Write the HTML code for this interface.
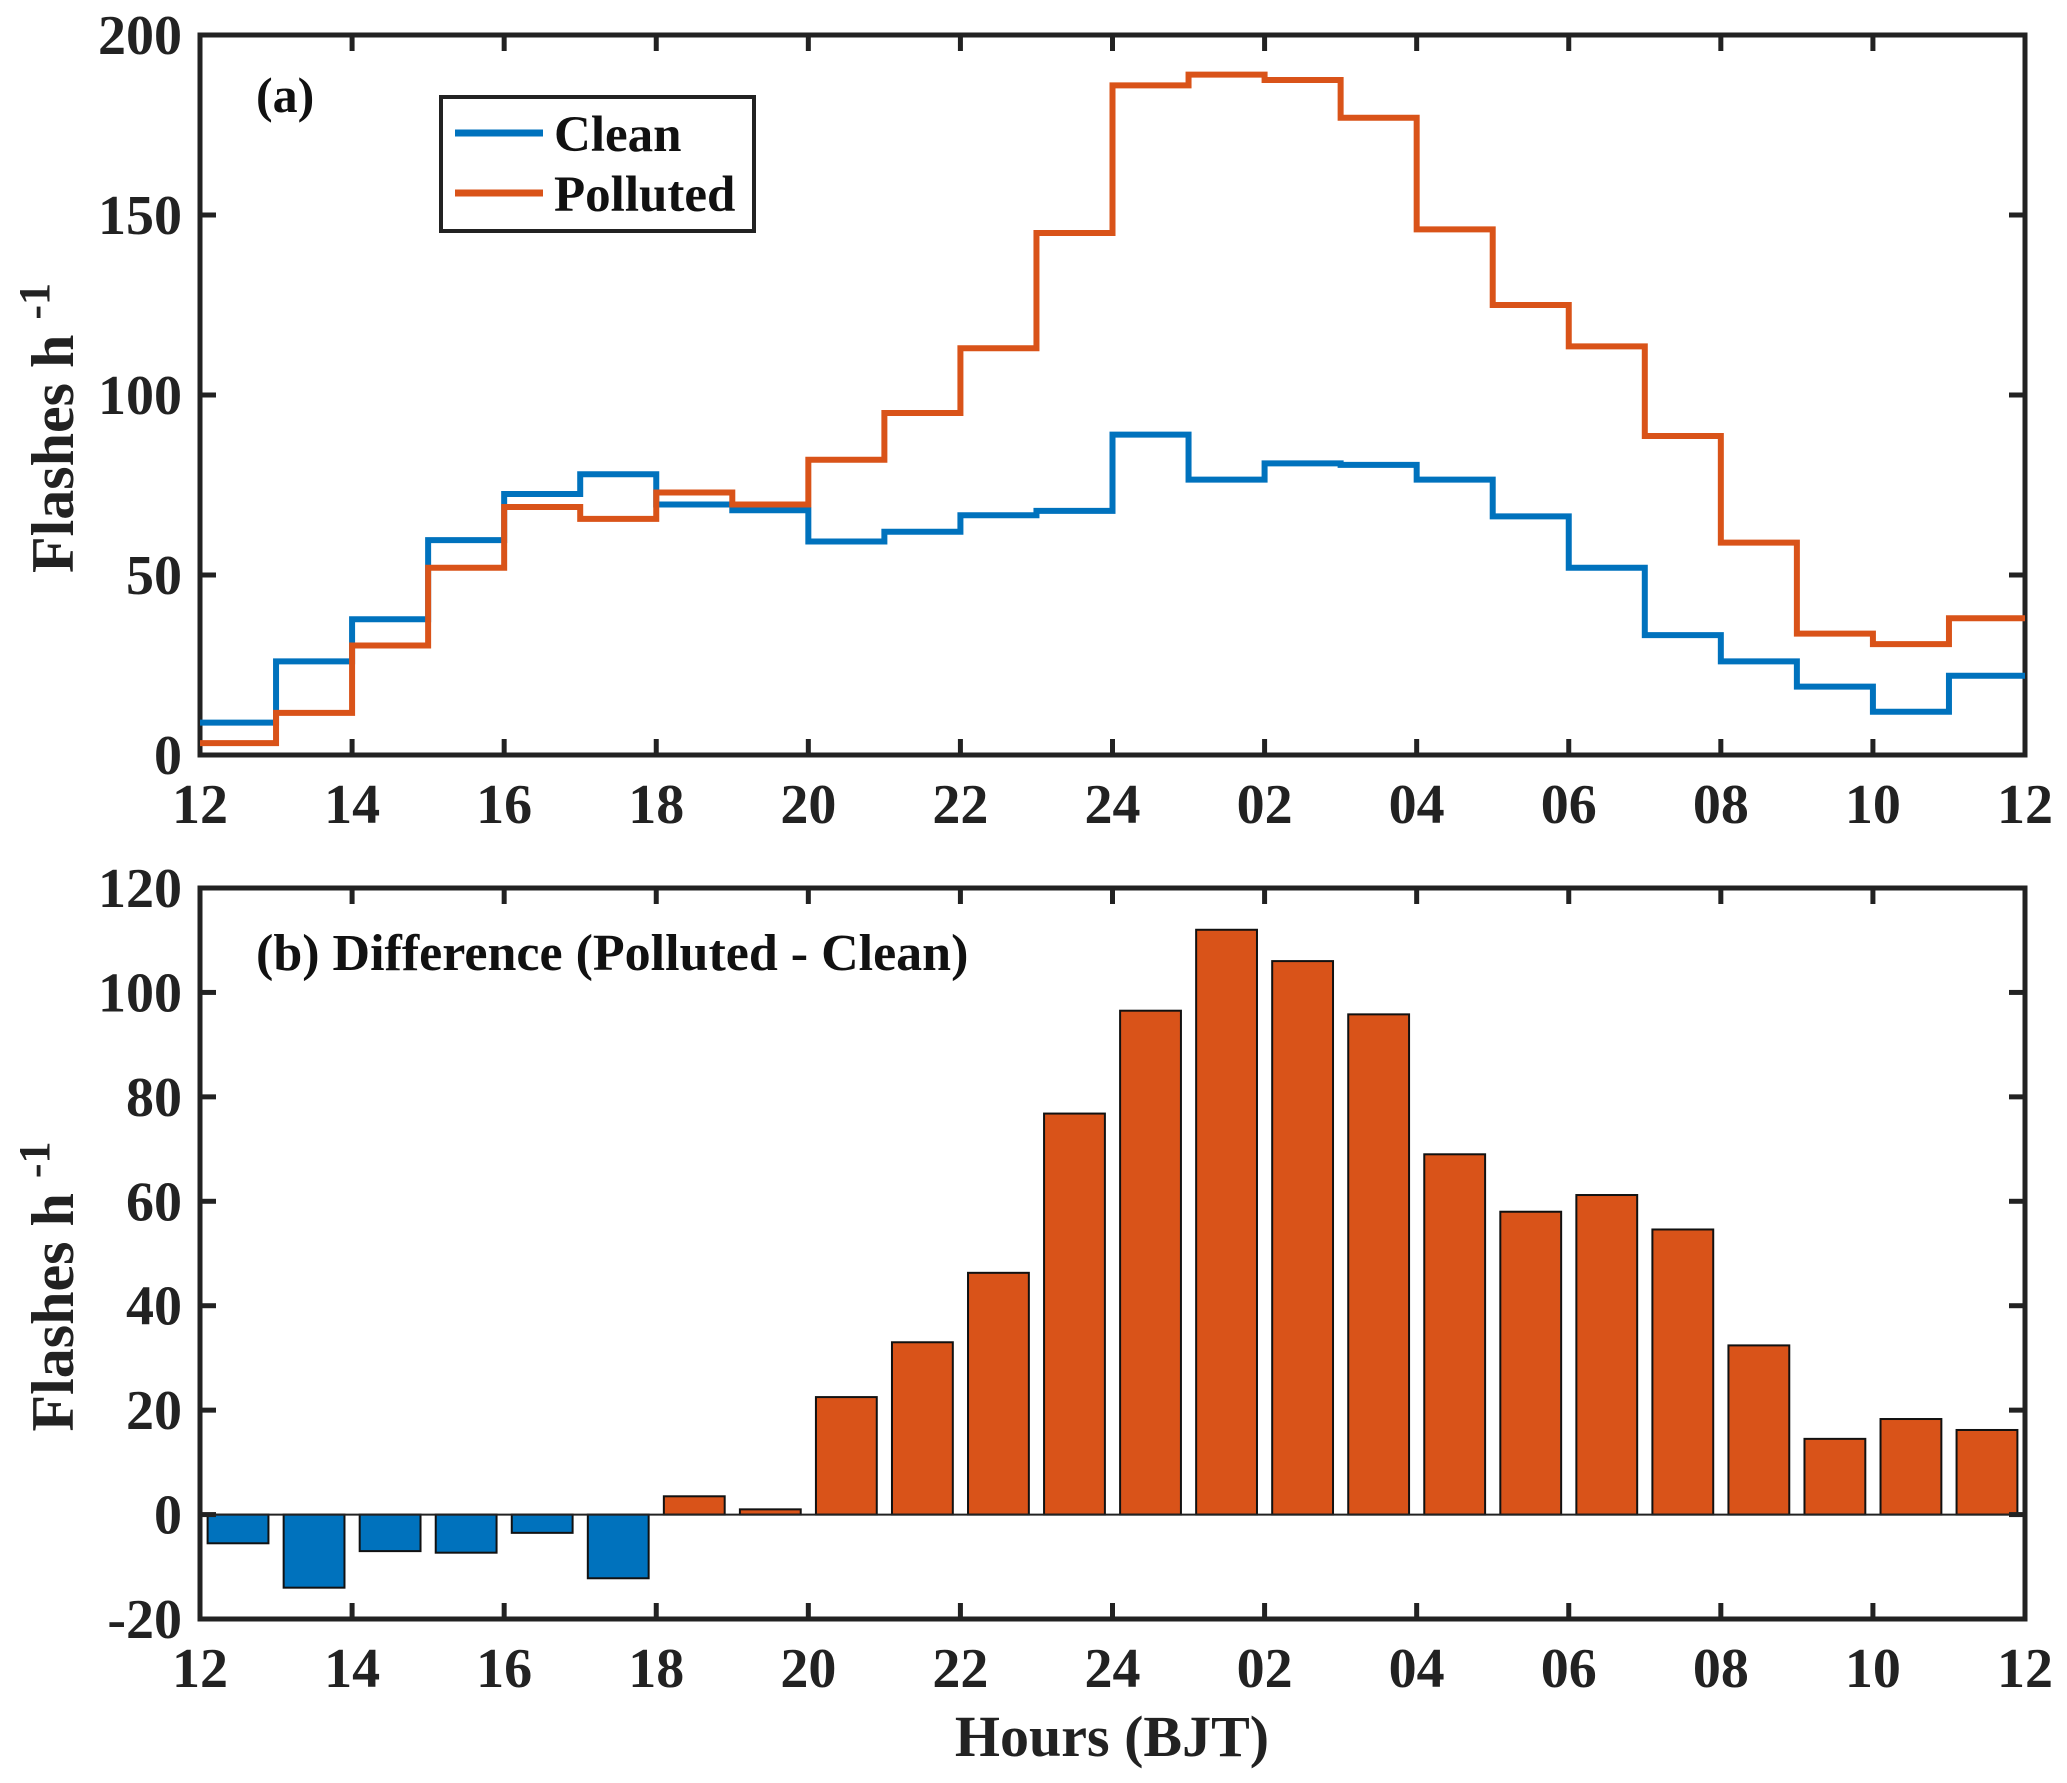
<!DOCTYPE html>
<html><head><meta charset="utf-8"><style>
body{margin:0;background:#fff}
svg{display:block;font-family:"Liberation Serif",serif;font-weight:bold}
</style></head><body>
<svg id="chart" width="2067" height="1783" viewBox="0 0 2067 1783" xmlns="http://www.w3.org/2000/svg"></svg>
<script>
const hours = [12,13,14,15,16,17,18,19,20,21,22,23,24,1,2,3,4,5,6,7,8,9,10,11];
const cleanVals = [9,26,37.7,59.7,72.5,78,69.6,68,59.3,62,66.6,67.8,89,76.5,81,80.6,76.5,66.3,52,33.3,26,19,12,22];
const pollutedVals = [3.3,11.7,30.4,52,68.9,65.6,72.9,69.6,82,95,113,145,186,189,187.5,177,146,125,113.5,88.6,59,33.7,30.8,38];
const diffVals = [-5.5,-14,-7,-7.3,-3.5,-12.2,3.5,1,22.5,33,46.3,76.8,96.5,112,106,95.8,69,58,61.2,54.6,32.4,14.5,18.3,16.2];
const xTickLabels = ["12","14","16","18","20","22","24","02","04","06","08","10","12"];
const yTicksA = [0,50,100,150,200];
const yTicksB = [-20,0,20,40,60,80,100,120];

const NS="http://www.w3.org/2000/svg";
const svg=document.getElementById('chart');
function mk(tag,attrs,parent){const e=document.createElementNS(NS,tag);for(const k in attrs)e.setAttribute(k,attrs[k]);(parent||svg).appendChild(e);return e;}
const X0=200,X1=2025;
const xs=i=>X0+(X1-X0)*i/24;
const A={top:35,bot:755,min:0,max:200};
const B={top:888,bot:1619,min:-20,max:120};
const ya=v=>A.bot-(v-A.min)/(A.max-A.min)*(A.bot-A.top);
const yb=v=>B.bot-(v-B.min)/(B.max-B.min)*(B.bot-B.top);
const BLUE="#0072BD",ORANGE="#D95319";

function axes(P,yf,ticks,name){
  const g=mk('g',{});
  
  
  for(let k=0;k<=12;k++){
    const x=xs(k*2);
    mk('line',{x1:x,x2:x,y1:P.bot,y2:P.bot-16,stroke:'#222','stroke-width':5},g);
    mk('line',{x1:x,x2:x,y1:P.top,y2:P.top+16,stroke:'#222','stroke-width':5},g);
    const t=mk('text',{x:x,y:P.bot+68,'text-anchor':'middle','font-size':56,fill:'#222'},g);
    t.textContent=xTickLabels[k];
    
    
  }
  ticks.forEach(v=>{
    const y=yf(v);
    mk('line',{x1:X0,x2:X0+16,y1:y,y2:y,stroke:'#222','stroke-width':5},g);
    mk('line',{x1:X1,x2:X1-16,y1:y,y2:y,stroke:'#222','stroke-width':5},g);
    const t=mk('text',{x:X0-18,y:y+19,'text-anchor':'end','font-size':56,fill:'#222'},g);
    t.textContent=String(v);
    
    
  });
  const r=mk('rect',{x:X0,y:P.top,width:X1-X0,height:P.bot-P.top,fill:'none',stroke:'#222','stroke-width':5},g);
  
  
  const cy=(P.top+P.bot)/2+33;
  const t=mk('text',{transform:`translate(73,${cy}) rotate(-90)`,'text-anchor':'middle','font-size':60,fill:'#222'},g);
  t.innerHTML='Flashes h <tspan dy="-24" font-size="44">-1</tspan>';
  
  
}

function stairs(vals){
  let d='';
  vals.forEach((v,i)=>{const y=ya(v);d+=(i===0?`M${xs(i)},${y}`:`L${xs(i)},${y}`)+`L${xs(i+1)},${y}`;});
  return d;
}
axes(A,ya,yTicksA,'panel-a');
const lc=mk('path',{d:stairs(cleanVals),fill:'none',stroke:BLUE,'stroke-width':6});


const lp=mk('path',{d:stairs(pollutedVals),fill:'none',stroke:ORANGE,'stroke-width':6});


const la=mk('text',{x:256,y:112,'font-size':50,fill:'#111'});
la.textContent='(a)';


const lg=mk('g',{});


mk('rect',{x:441,y:97,width:313,height:134,fill:'#fff',stroke:'#222','stroke-width':4},lg);
mk('line',{x1:455,x2:543,y1:133,y2:133,stroke:BLUE,'stroke-width':7},lg);
mk('line',{x1:455,x2:543,y1:193,y2:193,stroke:ORANGE,'stroke-width':7},lg);
const t1=mk('text',{x:554,y:151,'font-size':51,fill:'#111'},lg);t1.textContent='Clean';


const t2=mk('text',{x:554,y:211,'font-size':51,fill:'#111'},lg);t2.textContent='Polluted';



diffVals.forEach((v,i)=>{
  const w=(xs(1)-xs(0))*0.8;
  const x=xs(i)+(xs(1)-xs(0)-w)/2;
  const y0=yb(0),y1=yb(v);
  const r=mk('rect',{x:x,y:Math.min(y0,y1),width:w,height:Math.abs(y1-y0),fill:v<0?BLUE:ORANGE,stroke:'#111','stroke-width':2});
  
  
});
mk('line',{x1:X0,x2:X1,y1:yb(0),y2:yb(0),stroke:'#222','stroke-width':2});
axes(B,yb,yTicksB,'panel-b');
const lb=mk('text',{x:256,y:970,'font-size':52,fill:'#111'});
lb.textContent='(b) Difference (Polluted - Clean)';


const xl=mk('text',{x:1112,y:1756,'text-anchor':'middle','font-size':58,fill:'#222'});
xl.textContent='Hours (BJT)';


</script>
</body></html>
